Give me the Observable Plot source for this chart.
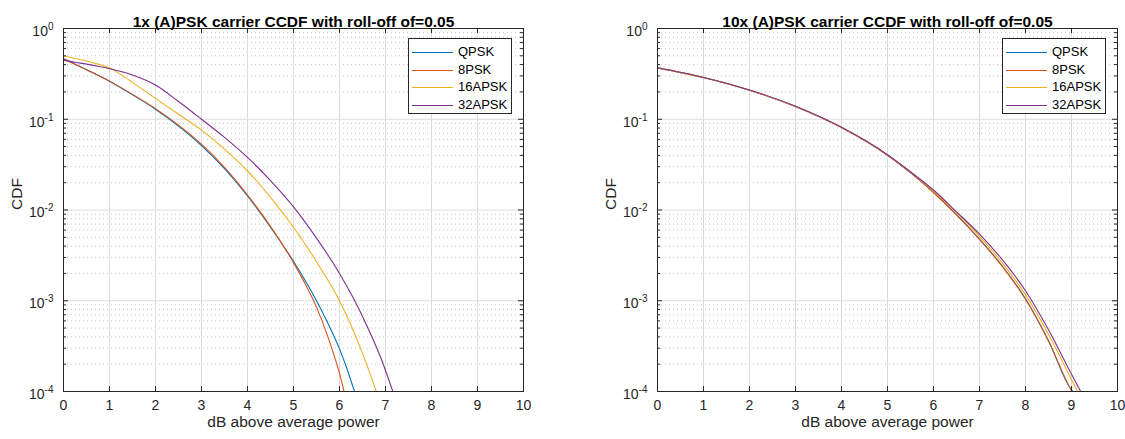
<!DOCTYPE html>
<html><head><meta charset="utf-8">
<script src="https://cdn.jsdelivr.net/npm/d3@7"></script>
<script src="https://cdn.jsdelivr.net/npm/@observablehq/plot@0.6"></script>
<style>
body{margin:0;background:#fff;font-family:"Liberation Sans",Arial,sans-serif;}
#wrap{position:relative;width:1125px;height:439px;overflow:hidden;}
.panel{position:absolute;top:0;}
.legend{position:absolute;box-sizing:border-box;border:1px solid #262626;background:#fff;font-size:13px;color:#000;}
.legend .row{position:absolute;left:0;height:16px;line-height:16px;white-space:nowrap;}
.legend .sw{position:absolute;top:8px;height:0;border-top:1px solid;}
.legend .lb{position:absolute;top:0;}
</style></head><body><div id="wrap"></div><script>
// ---- data ----
const seriesNames = ["QPSK", "8PSK", "16APSK", "32APSK"];
const seriesColors = ["#0072BD", "#D95319", "#EDB120", "#7E2F8E"];
const titles = ["1x (A)PSK carrier CCDF with roll-off of=0.05", "10x (A)PSK carrier CCDF with roll-off of=0.05"];
const xLabel = "dB above average power";
const yLabel = "CDF";
const xTicks = [0, 1, 2, 3, 4, 5, 6, 7, 8, 9, 10];
const yMajor = [1e-4, 1e-3, 1e-2, 1e-1, 1];
const yExponents = ["-4", "-3", "-2", "-1", "0"];

// 1x carrier: [dB, ccdf]
const qpsk1x = [[0,0.468],[0.5,0.352],[1,0.262],[1.5,0.186],[2,0.129],[2.5,0.0841],[3,0.0513],[3.5,0.0285],[4,0.0143],[4.5,0.00646],[5,0.00272],[5.5,0.001],[5.75,0.000562],[6,0.000295],[6.15,0.000186],[6.3,0.00011],[6.33,0.0001]];
const psk8_1x = [[0,0.462],[0.5,0.352],[1,0.263],[1.5,0.188],[2,0.131],[2.5,0.0861],[3,0.0531],[3.5,0.0295],[4,0.01462],[4.5,0.0066],[5,0.00263],[5.25,0.00155],[5.5,0.000851],[5.75,0.000398],[6,0.000158],[6.1,0.0001]];
const apsk16_1x = [[0,0.497],[0.25,0.468],[0.5,0.438],[0.75,0.405],[1,0.37],[1.25,0.31],[1.5,0.255],[2,0.17],[2.5,0.1135],[3,0.0759],[3.5,0.0468],[4,0.0269],[4.5,0.0138],[5,0.00646],[5.5,0.00269],[6,0.001],[6.25,0.000537],[6.5,0.000263],[6.8,0.0001]];
const apsk32_1x = [[0,0.449],[0.25,0.425],[0.5,0.405],[0.75,0.383],[1,0.36],[1.5,0.307],[2,0.238],[2.5,0.1567],[3,0.1],[3.5,0.0631],[4,0.038],[4.5,0.0211],[5,0.01084],[5.5,0.0049],[6,0.002],[6.3,0.00107],[6.6,0.000525],[6.9,0.000234],[7.16,0.0001]];

// 10x carriers: [dB, ccdf]
const qpsk10x = [[0,0.368],[1,0.288],[2,0.209],[3,0.138],[4,0.0809],[5,0.0401],[5.5,0.0258],[6,0.01567],[6.5,0.00891],[7,0.00479],[7.5,0.0024],[8,0.00105],[8.5,0.000363],[9,0.000104],[9.03,0.0001]];
const psk8_10x = [[0,0.368],[1,0.288],[2,0.209],[3,0.138],[4,0.0809],[5,0.0401],[5.5,0.0258],[6,0.0156],[6.5,0.00885],[7,0.00475],[7.5,0.00238],[8,0.00104],[8.5,0.00036],[9,0.000102],[9.01,0.0001]];
const apsk16_10x = [[0,0.368],[1,0.288],[2,0.209],[3,0.138],[4,0.0812],[5,0.0404],[5.5,0.0261],[6,0.0162],[6.5,0.00933],[7,0.00513],[7.5,0.0026],[8,0.00116],[8.5,0.000427],[9,0.000135],[9.13,0.0001]];
const apsk32_10x = [[0,0.369],[1,0.289],[2,0.21],[3,0.139],[4,0.0815],[5,0.0407],[5.5,0.0264],[6,0.0166],[6.5,0.00955],[7,0.00543],[7.5,0.00282],[8,0.00129],[8.5,0.000479],[9,0.000155],[9.2,0.0001]];

const panels = [
  {title: titles[0], series: [qpsk1x, psk8_1x, apsk16_1x, apsk32_1x], left: 0, width: 562, marginLeft: 63, marginRight: 39, legendLeft: 408},
  {title: titles[1], series: [qpsk10x, psk8_10x, apsk16_10x, apsk32_10x], left: 562, width: 563, marginLeft: 95, marginRight: 8, legendLeft: 1002}
];

const H = 439, MT = 28, MB = 48;
const minorY = [];
for (let k = -4; k < 0; k++) for (let m = 2; m <= 9; m++) minorY.push(m * Math.pow(10, k));

const wrap = document.getElementById("wrap");
const ink = "#262626";

for (const p of panels) {
  const fw = p.width - p.marginLeft - p.marginRight;
  const fh = H - MT - MB;
  const rows = [];
  p.series.forEach((s, i) => s.forEach(([x, y]) => rows.push({name: seriesNames[i], x, y})));
  const lineMarks = seriesNames.map((n, i) =>
    Plot.line(rows.filter(r => r.name === n), {x: "x", y: "y", stroke: seriesColors[i], strokeWidth: 1.1, curve: "monotone-x", clip: true}));
  const svg = Plot.plot({
    width: p.width, height: H,
    marginLeft: p.marginLeft, marginRight: p.marginRight, marginTop: MT, marginBottom: MB,
    style: {fontFamily: '"Liberation Sans", Arial, sans-serif', fontSize: "14px", color: ink, background: "#fff"},
    x: {domain: [0, 10], label: null},
    y: {type: "log", domain: [1e-4, 1], label: null},
    marks: [
      Plot.ruleY(minorY, {stroke: "#c8c8c8", strokeDasharray: "1,3"}),
      Plot.ruleY(yMajor.slice(1, -1), {stroke: "#dcdcdc"}),
      Plot.ruleX(xTicks.slice(1, -1), {stroke: "#dcdcdc"}),
      ...lineMarks,
      Plot.frame({stroke: ink}),
      Plot.tickY(yMajor, {insetRight: fw - 5, stroke: ink}),
      Plot.tickY(yMajor, {insetLeft: fw - 5, stroke: ink}),
      Plot.tickY(minorY, {insetRight: fw - 3, stroke: ink}),
      Plot.tickY(minorY, {insetLeft: fw - 3, stroke: ink}),
      Plot.tickX(xTicks, {insetTop: fh - 5, stroke: ink}),
      Plot.tickX(xTicks, {insetBottom: fh - 5, stroke: ink}),
      Plot.axisY(yMajor, {tickSize: 0, tickPadding: 10, label: null, fontSize: 14, dy: 3,
        tickFormat: d => "10^" + yExponents[yMajor.indexOf(d)]}),
      Plot.axisX(xTicks, {tickSize: 0, tickPadding: 9, label: null, fontSize: 14, tickFormat: d => String(d)}),
      Plot.text([p.title], {frameAnchor: "top", dy: -13, fontWeight: "bold", fontSize: 15.5, fill: "#000"}),
      Plot.text([xLabel], {frameAnchor: "bottom", dy: 35, fontSize: 15.5, fill: ink}),
      Plot.text([yLabel], {frameAnchor: "left", dx: -46, rotate: -90, fontSize: 15.5, fill: ink})
    ]
  });
  // render exponents as raised smaller text
  svg.querySelectorAll("text").forEach(t => {
    const s = t.textContent;
    const m = /^10\^(.+)$/.exec(s);
    if (m) {
      t.textContent = "10";
      const ts = document.createElementNS("http://www.w3.org/2000/svg", "tspan");
      ts.setAttribute("dy", "-6");
      ts.setAttribute("font-size", "10");
      ts.textContent = m[1];
      t.appendChild(ts);
    }
  });
  svg.classList.add("panel");
  svg.style.left = p.left + "px";
  wrap.appendChild(svg);

  // legend
  const lg = d3.select(wrap).append("div").attr("class", "legend")
    .style("left", p.legendLeft + "px").style("top", "38px")
    .style("width", "104px").style("height", "76px");
  seriesNames.forEach((n, i) => {
    const r = lg.append("div").attr("class", "row").style("top", (5 + i * 17.5) + "px").style("width", "100%");
    r.append("span").attr("class", "sw").style("left", "3px").style("width", "41px").style("border-color", seriesColors[i]);
    r.append("span").attr("class", "lb").style("left", "49px").text(n);
  });
}
</script></body></html>
